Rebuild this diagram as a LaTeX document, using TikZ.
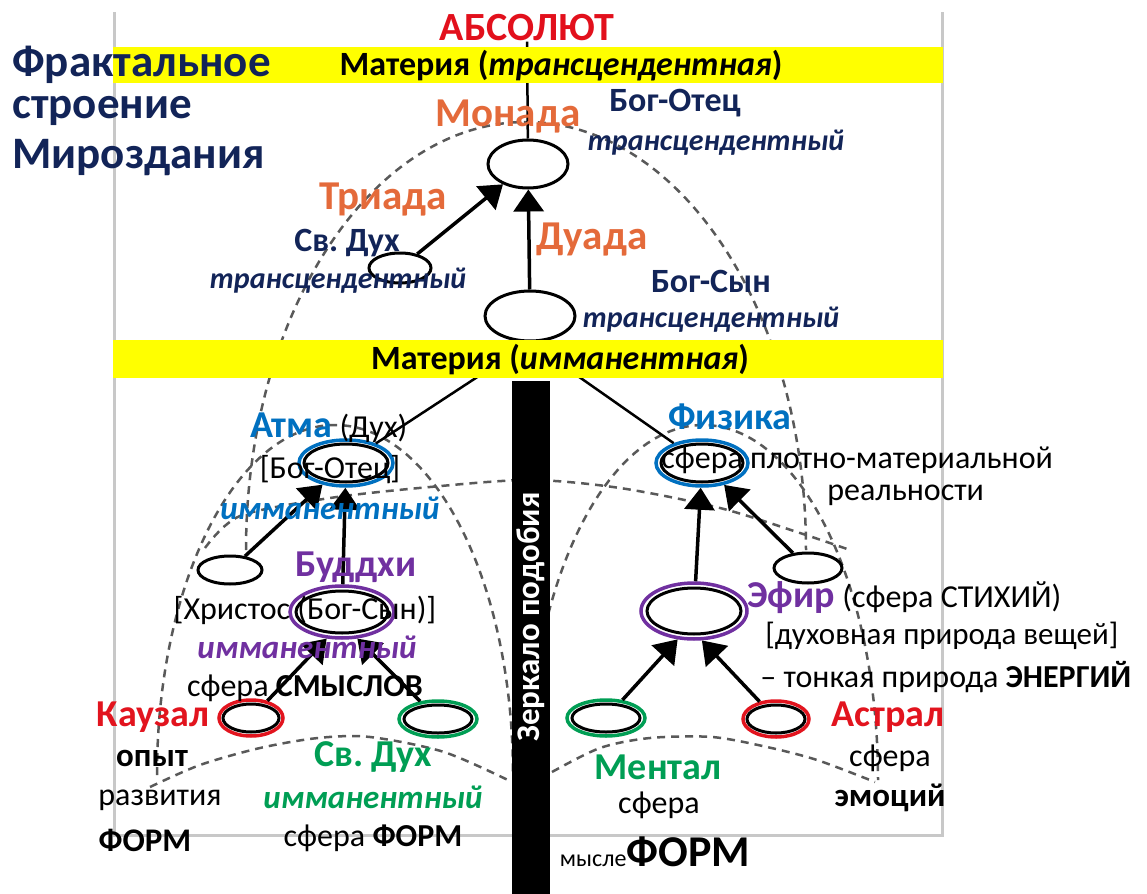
\documentclass[tikz,border=0pt]{standalone}
\usepackage{fontspec}
\setmainfont{Carlito}
\frenchspacing
\usetikzlibrary{shapes.geometric,arrows.meta}
\newlength{\px}\setlength{\px}{0.5pt}
\newcommand\fsz[1]{\fontsize{\dimexpr #1\px\relax}{\dimexpr #1\px*6/5\relax}\selectfont}
\definecolor{navy}{RGB}{18,36,88}
\definecolor{orng}{RGB}{228,106,58}
\definecolor{absred}{RGB}{226,16,28}
\definecolor{lred}{RGB}{226,20,30}
\definecolor{lblue}{RGB}{0,112,192}
\definecolor{lpurple}{RGB}{112,48,160}
\definecolor{lgreen}{RGB}{0,158,84}
\definecolor{band}{RGB}{255,255,0}
\definecolor{frame}{RGB}{200,200,200}
\begin{document}
\begin{tikzpicture}[x=1\px,y=-1\px,
  ell/.style 2 args={ellipse,draw=black,line width=3\px,inner sep=0pt,minimum width=#1\px,minimum height=#2\px},
  ring/.style={line width=3.5\px},
  arr/.style={line width=3.5\px,-{Triangle[length=11pt,width=15pt]}},
  link/.style={line width=2.5\px},
  dsh/.style={line width=2.5\px,black!65,dash pattern=on 4pt off 3pt},
  txt/.style={inner sep=0pt,font=\fsz{32}},
  ttl/.style={inner sep=0pt,anchor=west,text=navy,font=\bfseries\fsz{45}},
  navyb/.style={inner sep=0pt,text=navy,font=\bfseries\fsz{34}},
  navyi/.style={inner sep=0pt,text=navy,font=\bfseries\itshape\fsz{30}},
  orlbl/.style={inner sep=0pt,text=orng,font=\bfseries\fsz{41}},
  clbl/.style={inner sep=0pt,text=#1,font=\bfseries\fsz{38}},
  cital/.style={inner sep=0pt,text=#1,font=\bfseries\itshape\fsz{33}},
  bandtxt/.style={inner sep=0pt,font=\bfseries\fsz{34}},
  blk/.style={inner sep=0pt,font=\bfseries\fsz{33}}
]
\useasboundingbox (0,0) rectangle (1147,894);
% frame
\draw[frame,line width=3\px] (114,12) -- (114,835) -- (942,835) -- (942,12);
% dashed arches
\draw[dsh] (246,550) arc[start angle=180,end angle=360,x radius=280,y radius=428];
\draw[dsh] (157,775) arc[start angle=180,end angle=360,x radius=178,y radius=350];
\draw[dsh] (528,780) arc[start angle=180,end angle=360,x radius=175,y radius=355];
\draw[dsh] plot[smooth] coordinates {(205,548) (240,516) (330,498) (430,487) (530,480) (620,488) (720,508) (800,533) (850,550)};
\draw[dsh] plot[smooth] coordinates {(150,787) (200,765) (260,748) (318,738) (370,737) (444,752) (512,782)};
\draw[dsh] plot[smooth] coordinates {(552,772) (600,748) (650,738) (712,737) (767,747) (817,760) (875,782)};
% ellipses
\node[ell={80}{48}] (monada) at (528,164) {};
\node[ell={62}{30}] (triad) at (400,268) {};
\node[ell={90}{50}] (duada) at (530,316) {};
\node[ell={94}{46},draw=lblue,ring] (atma) at (346,463) {};
\node[ell={84}{38}] (atmain) at (346,463) {};
\node[ell={64}{28}] (lsmall) at (230,570) {};
\node[ell={104}{52},draw=lpurple,ring] (buddhi) at (342,612) {};
\node[ell={92}{42}] (buddhiin) at (342,612) {};
\node[ell={64}{36},draw=lred,ring] (kauzal) at (251,718) {};
\node[ell={56}{28}] (kauzalin) at (251,718) {};
\node[ell={78}{36},draw=lgreen,ring] (svdukh) at (438,719) {};
\node[ell={68}{28}] (svdukhin) at (438,719) {};
\node[ell={92}{46},draw=lblue,ring] (physika) at (702,463) {};
\node[ell={82}{38}] (physikain) at (702,463) {};
\node[ell={68}{30}] (rsmall) at (808,568) {};
\node[ell={106}{56},draw=lpurple,ring] (ether) at (694,611) {};
\node[ell={94}{46}] (etherin) at (694,611) {};
\node[ell={78}{36},draw=lgreen,ring] (mental) at (606,718) {};
\node[ell={68}{28}] (mentalin) at (606,718) {};
\node[ell={66}{36},draw=lred,ring] (astral) at (776,719) {};
\node[ell={58}{28}] (astralin) at (776,719) {};
% title node of the top (placed early so the link can start at it)
\node[inner sep=0pt,text=absred,font=\bfseries\fsz{40}] (abs) at (527,28) {АБСОЛЮТ};
% connectors
\draw[link] (abs) -- (monada);
\draw[arr] (triad) -- (monada);
\draw[arr] (duada) -- (monada);
\draw[link] (duada.south) -- (atma);
\draw[link] (duada.south) -- (physika);
\draw[arr] (lsmall) -- (atma);
\draw[arr] (buddhi) -- (atma);
\draw[arr] (kauzal) -- (buddhi.-120);
\draw[arr] (svdukh) -- (buddhi.-60);
\draw[arr] (ether) -- (physika);
\draw[arr] (rsmall) -- (physika);
\draw[arr] (mental) -- (ether.-120);
\draw[arr] (astral) -- (ether.-75);
% bands and mirror
\fill[band] (113,47) rectangle (943,83);
\fill[band] (113,340) rectangle (943,378);
\fill[black] (512,381) rectangle (550,894);
\node[inner sep=0pt,rotate=90,text=white,font=\bfseries\fsz{33}] (mirror) at (531,617) {Зеркало подобия};
% texts top
\node[ttl] (t1) at (12,65) {Фрактальное};
\node[ttl] (t2) at (12,111) {строение};
\node[ttl] (t3) at (12,158) {Мироздания};
\node[bandtxt] (b1) at (561,66) {Материя (\textit{трансцендентная})};
\node[orlbl] (monadat) at (508,117) {Монада};
\node[navyb] (bo) at (675,103) {Бог-Отец};
\node[navyi] (bo2) at (716,143) {трансцендентный};
\node[orlbl] (triadt) at (383,200) {Триада};
\node[navyb] (sd) at (347,243) {Св. Дух};
\node[navyi] (sd2) at (338,281) {трансцендентный};
\node[orlbl] (duadat) at (592,240) {Дуада};
\node[navyb] (bs) at (711,281) {Бог-Сын};
\node[navyi] (bs2) at (711,320) {трансцендентный};
\node[bandtxt] (b2) at (560,360) {Материя (\textit{имманентная})};
% left lower
\node[txt,anchor=west] (atmat) at (250,428) {{\color{lblue}\bfseries\fsz{38}Атма} (Дух)};
\node[txt] (atma2) at (330,470) {[Бог-Отец]};
\node[cital=lblue] (atma3) at (330,508) {имманентный};
\node[clbl=lpurple] (buddhit) at (356,567) {Буддхи};
\node[txt] (bud2) at (305,610) {[Христос (Бог-Сын)]};
\node[cital=lpurple] (bud3) at (307,647) {имманентный};
\node[txt] (bud4) at (305,688) {сфера \textbf{СМЫСЛОВ}};
\node[clbl=lred] (kauzalt) at (153,717) {Каузал};
\node[blk] (k2) at (152,758) {опыт};
\node[txt] (k3) at (160,800) {развития};
\node[blk] (k4) at (145,840) {ФОРМ};
\node[clbl=lgreen] (svdukht) at (373,757) {Св. Дух};
\node[cital=lgreen] (sv2) at (373,797) {имманентный};
\node[txt] (sv3) at (373,838) {сфера \textbf{ФОРМ}};
% right lower
\node[clbl=lblue] (physikat) at (730,417) {Физика};
\node[txt,anchor=west] (ph2) at (661,460) {сфера плотно-материальной};
\node[txt,anchor=west] (ph3) at (827,495) {реальности};
\node[txt,anchor=west] (eth1) at (747,598) {{\color{lpurple}\bfseries\fsz{38}Эфир} (сфера СТИХИЙ)};
\node[txt,anchor=west,font=\fsz{31}] (eth2) at (765,636) {[духовная природа вещей]};
\node[txt,anchor=west] (eth3) at (760,677) {– тонкая природа \textbf{ЭНЕРГИЙ}};
\node[clbl=lred] (astralt) at (888,717) {Астрал};
\node[txt] (as2) at (890,758) {сфера};
\node[blk] (as3) at (890,798) {эмоций};
\node[clbl=lgreen] (mentalt) at (658,767) {Ментал};
\node[txt] (me2) at (659,805) {сфера};
\node[txt] (me3) at (655,852) {{\fsz{24}мысле}{\bfseries\fsz{44}ФОРМ}};
\end{tikzpicture}
\end{document}
